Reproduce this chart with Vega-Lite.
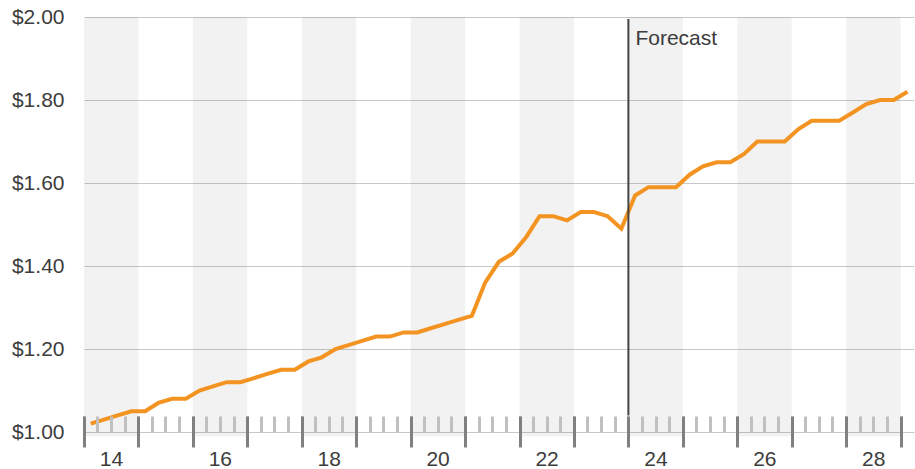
{
  "$schema": "https://vega.github.io/schema/vega-lite/v6.json",
  "width": 830,
  "height": 415,
  "autosize": {"type": "none"},
  "padding": {"left": 84, "top": 17, "right": 1, "bottom": 37},
  "background": "white",
  "config": {"view": {"stroke": null}, "font": "Liberation Sans"},
  "datasets": {
    "bands": [
      {"start": "2014-01-01", "end": "2015-01-01"},
      {"start": "2016-01-01", "end": "2017-01-01"},
      {"start": "2018-01-01", "end": "2019-01-01"},
      {"start": "2020-01-01", "end": "2021-01-01"},
      {"start": "2022-01-01", "end": "2023-01-01"},
      {"start": "2024-01-01", "end": "2025-01-01"},
      {"start": "2026-01-01", "end": "2027-01-01"},
      {"start": "2028-01-01", "end": "2029-01-01"}
    ],
    "events": [{"date": "2024-01-01", "label": "Forecast"}],
    "series": [
      {"date": "2014-02-15", "price": 1.02}, {"date": "2014-05-15", "price": 1.03}, {"date": "2014-08-15", "price": 1.04}, {"date": "2014-11-15", "price": 1.05},
      {"date": "2015-02-15", "price": 1.05}, {"date": "2015-05-15", "price": 1.07}, {"date": "2015-08-15", "price": 1.08}, {"date": "2015-11-15", "price": 1.08},
      {"date": "2016-02-15", "price": 1.10}, {"date": "2016-05-15", "price": 1.11}, {"date": "2016-08-15", "price": 1.12}, {"date": "2016-11-15", "price": 1.12},
      {"date": "2017-02-15", "price": 1.13}, {"date": "2017-05-15", "price": 1.14}, {"date": "2017-08-15", "price": 1.15}, {"date": "2017-11-15", "price": 1.15},
      {"date": "2018-02-15", "price": 1.17}, {"date": "2018-05-15", "price": 1.18}, {"date": "2018-08-15", "price": 1.20}, {"date": "2018-11-15", "price": 1.21},
      {"date": "2019-02-15", "price": 1.22}, {"date": "2019-05-15", "price": 1.23}, {"date": "2019-08-15", "price": 1.23}, {"date": "2019-11-15", "price": 1.24},
      {"date": "2020-02-15", "price": 1.24}, {"date": "2020-05-15", "price": 1.25}, {"date": "2020-08-15", "price": 1.26}, {"date": "2020-11-15", "price": 1.27},
      {"date": "2021-02-15", "price": 1.28}, {"date": "2021-05-15", "price": 1.36}, {"date": "2021-08-15", "price": 1.41}, {"date": "2021-11-15", "price": 1.43},
      {"date": "2022-02-15", "price": 1.47}, {"date": "2022-05-15", "price": 1.52}, {"date": "2022-08-15", "price": 1.52}, {"date": "2022-11-15", "price": 1.51},
      {"date": "2023-02-15", "price": 1.53}, {"date": "2023-05-15", "price": 1.53}, {"date": "2023-08-15", "price": 1.52}, {"date": "2023-11-15", "price": 1.49},
      {"date": "2024-02-15", "price": 1.57}, {"date": "2024-05-15", "price": 1.59}, {"date": "2024-08-15", "price": 1.59}, {"date": "2024-11-15", "price": 1.59},
      {"date": "2025-02-15", "price": 1.62}, {"date": "2025-05-15", "price": 1.64}, {"date": "2025-08-15", "price": 1.65}, {"date": "2025-11-15", "price": 1.65},
      {"date": "2026-02-15", "price": 1.67}, {"date": "2026-05-15", "price": 1.70}, {"date": "2026-08-15", "price": 1.70}, {"date": "2026-11-15", "price": 1.70},
      {"date": "2027-02-15", "price": 1.73}, {"date": "2027-05-15", "price": 1.75}, {"date": "2027-08-15", "price": 1.75}, {"date": "2027-11-15", "price": 1.75},
      {"date": "2028-02-15", "price": 1.77}, {"date": "2028-05-15", "price": 1.79}, {"date": "2028-08-15", "price": 1.80}, {"date": "2028-11-15", "price": 1.80},
      {"date": "2029-02-15", "price": 1.82}
    ]
  },
  "layer": [
    {
      "data": {"name": "bands"},
      "mark": {"type": "rect", "color": "#000000", "opacity": 0.05},
      "encoding": {
        "x": {
          "field": "start",
          "type": "temporal",
          "scale": {
            "type": "utc",
            "nice": false,
            "domain": [
              {"year": 2014, "month": 1, "date": 1, "utc": true},
              {"year": 2029, "month": 3, "date": 31, "utc": true}
            ]
          },
          "axis": {
            "orient": "bottom",
            "tickCount": {"interval": "year", "step": 1},
            "offset": -16,
            "tickSize": 31,
            "tickWidth": 3,
            "tickColor": "#808080",
            "domain": false,
            "grid": false,
            "labelOffset": 27,
            "labelExpr": "utcyear(datum.value) % 2 == 0 ? utcFormat(datum.value, '%y') : ''",
            "labelFont": "Liberation Sans",
            "labelFontSize": 21,
            "labelColor": "#3c3c3c",
            "labelPadding": 1,
            "labelOverlap": false,
            "labelFlush": false,
            "labelBound": false,
            "title": null,
            "zindex": 2
          }
        },
        "x2": {"field": "end"},
        "y": {
          "datum": 2,
          "type": "quantitative",
          "title": null,
          "scale": {"domain": [1, 2], "nice": false, "zero": false}
        },
        "y2": {"datum": 0.989}
      }
    },
    {
      "data": {"name": "series"},
      "mark": {"type": "line", "color": "#f39321", "strokeWidth": 4},
      "encoding": {
        "x": {
          "field": "date",
          "type": "temporal",
          "axis": {
            "orient": "bottom",
            "tickCount": {"interval": "month", "step": 3},
            "offset": -16,
            "tickSize": 16,
            "tickWidth": 3,
            "tickColor": "#c0c0c0",
            "domain": false,
            "labels": false,
            "grid": false,
            "title": null,
            "zindex": 1
          }
        },
        "y": {
          "field": "price",
          "type": "quantitative",
          "title": null,
          "axis": {
            "values": [1, 1.2, 1.4, 1.6, 1.8, 2],
            "format": "$.2f",
            "grid": true,
            "gridColor": "#c8c8c8",
            "gridWidth": 1,
            "domain": false,
            "ticks": false,
            "labelFont": "Liberation Sans",
            "labelFontSize": 21,
            "labelColor": "#3c3c3c",
            "labelPadding": 20,
            "title": null,
            "zindex": 0
          }
        }
      }
    },
    {
      "data": {"name": "events"},
      "mark": {"type": "rule", "color": "#444444", "strokeWidth": 2},
      "encoding": {
        "x": {"field": "date", "type": "temporal", "axis": null},
        "y": {"datum": 1.995, "type": "quantitative", "title": null},
        "y2": {"datum": 1.04}
      }
    },
    {
      "data": {"name": "events"},
      "mark": {"type": "text", "align": "left", "baseline": "alphabetic", "dx": 7, "fontSize": 21, "color": "#3c3c3c", "font": "Liberation Sans"},
      "encoding": {
        "x": {"field": "date", "type": "temporal", "axis": null},
        "y": {"datum": 1.933, "type": "quantitative", "title": null},
        "text": {"field": "label"}
      }
    }
  ],
  "resolve": {"axis": {"x": "independent"}}
}
